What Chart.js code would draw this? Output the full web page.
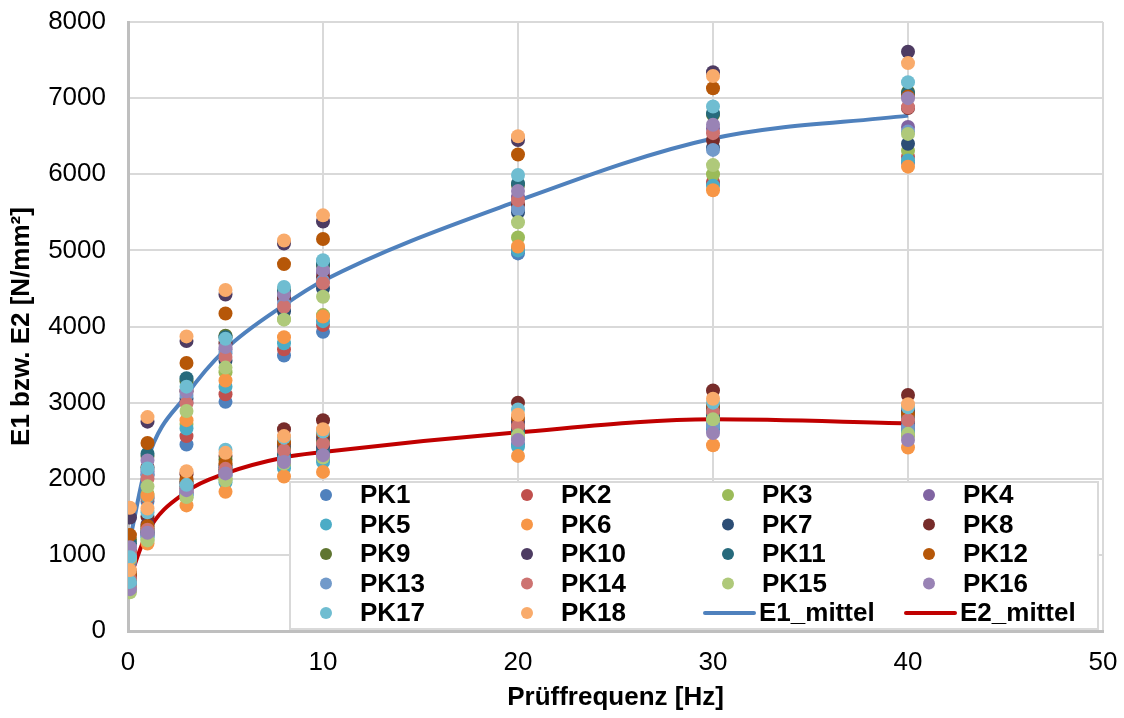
<!DOCTYPE html>
<html>
<head>
<meta charset="utf-8">
<script src="https://cdn.jsdelivr.net/npm/chart.js@4.4.0/dist/chart.umd.min.js"></script>
<style>
html, body { margin: 0; padding: 0; background: #fff; }
</style>
</head>
<body>
<canvas id="myChart" width="1124" height="718"></canvas>
<script>
// Prüffrequenzen [Hz]
const freqs = [0.1, 1, 3, 5, 8, 10, 20, 30, 40];
const seriesNames = ['PK1', 'PK2', 'PK3', 'PK4', 'PK5', 'PK6', 'PK7', 'PK8', 'PK9',
    'PK10', 'PK11', 'PK12', 'PK13', 'PK14', 'PK15', 'PK16', 'PK17', 'PK18'];
// E1 je Probekörper, eine Zeile pro PK (Werte je Frequenz)
const e1Values = [
    [900, 1700, 2450, 3010, 3620, 3930, 4960, 5880, 6150],
    [920, 1740, 2560, 3110, 3700, 4020, 5020, 5900, 6230],
    [940, 1800, 2720, 3400, 4100, 4150, 5170, 6000, 6310],
    [1000, 2100, 3000, 3700, 4350, 4700, 5700, 6600, 6620],
    [930, 1760, 2660, 3210, 3780, 4070, 5000, 5850, 6180],
    [950, 1780, 2770, 3290, 3860, 4130, 5050, 5790, 6100],
    [1010, 2050, 3050, 3550, 4200, 4500, 5500, 6350, 6400],
    [1050, 2150, 3150, 3780, 4380, 4650, 5600, 6450, 6870],
    [1200, 2300, 3280, 3880, 4480, 4800, 5860, 6780, 7080],
    [1490, 2750, 3810, 4420, 5090, 5380, 6450, 7340, 7610],
    [1150, 2330, 3320, 3860, 4450, 4820, 5880, 6800, 7060],
    [1260, 2470, 3520, 4170, 4820, 5150, 6260, 7130, 7020],
    [1020, 2060, 3100, 3650, 4300, 4600, 5540, 6320, 6560],
    [1040, 2000, 2990, 3600, 4260, 4570, 5660, 6540, 6880],
    [960, 1900, 2890, 3460, 4090, 4390, 5370, 6120, 6530],
    [1100, 2240, 3150, 3730, 4420, 4740, 5780, 6650, 7000],
    [970, 2135, 3210, 3840, 4520, 4870, 5990, 6890, 7210],
    [1620, 2810, 3870, 4480, 5130, 5460, 6500, 7290, 7460]
];
// E2 je Probekörper
const e2Values = [
    [600, 1250, 1800, 2050, 2200, 2250, 2450, 2650, 2600],
    [620, 1270, 1820, 2100, 2250, 2380, 2600, 2850, 2650],
    [560, 1200, 1750, 2000, 2180, 2330, 2580, 2750, 2560],
    [610, 1280, 1830, 2080, 2280, 2400, 2550, 2700, 2700],
    [640, 1230, 1780, 1950, 2135, 2220, 2420, 2680, 2620],
    [580, 1150, 1650, 1830, 2030, 2090, 2300, 2440, 2410],
    [650, 1300, 1870, 2150, 2300, 2420, 2650, 2800, 2750],
    [780, 1500, 2060, 2300, 2650, 2770, 3000, 3160, 3100],
    [700, 1350, 1960, 2250, 2400, 2500, 2700, 2900, 2860],
    [720, 1400, 1940, 2180, 2450, 2550, 2750, 2950, 2900],
    [660, 1320, 1900, 2120, 2320, 2350, 2620, 2820, 2800],
    [740, 1380, 1990, 2200, 2480, 2600, 2800, 2970, 2850],
    [620, 1260, 1800, 2040, 2260, 2300, 2530, 2700, 2680],
    [680, 1330, 1880, 2130, 2370, 2460, 2690, 2880, 2770],
    [510, 1190, 1760, 1980, 2200, 2280, 2570, 2780, 2590],
    [550, 1290, 1850, 2070, 2220, 2310, 2510, 2600, 2510],
    [645, 1560, 1920, 2380, 2540, 2620, 2910, 3000, 2940],
    [800, 1610, 2100, 2340, 2560, 2650, 2840, 3050, 2980]
];
const e1Mittel = [1200, 2250, 3100, 3700, 4280, 4600, 5650, 6470, 6770];
const e2Mittel = [700, 1300, 1830, 2070, 2280, 2350, 2610, 2780, 2730];

const pkColors = ['#4F81BD', '#C0504D', '#9BBB59', '#8064A2', '#4BACC6', '#F79646',
    '#2C4D75', '#772C2A', '#5F7530', '#4D3B62', '#276A7C', '#B65708',
    '#729ACA', '#CD7371', '#AFC97A', '#9983B5', '#6FBDD1', '#F9AB6B'];
const e1Color = '#4F81BD';
const e2Color = '#C00000';
const fontFamily = "'Liberation Sans', Arial, sans-serif";
const fontSize = 26;

var datasets = [];
for (let i = 0; i < seriesNames.length; i++) {
    let pts = [];
    for (let j = 0; j < freqs.length; j++) {
        pts.push({x: freqs[j], y: e1Values[i][j]});
        pts.push({x: freqs[j], y: e2Values[i][j]});
    }
    datasets.push({
        label: seriesNames[i],
        data: pts,
        backgroundColor: pkColors[i],
        borderColor: pkColors[i],
        pointRadius: 7,
        pointBorderWidth: 0,
        pointHoverRadius: 7,
        showLine: false,
        order: 50 - i   // spätere PK oben
    });
}
datasets.push({
    label: 'E1_mittel',
    data: freqs.map((f, j) => ({x: f, y: e1Mittel[j]})),
    borderColor: e1Color,
    backgroundColor: e1Color,
    borderWidth: 4,
    pointRadius: 0,
    showLine: true,
    cubicInterpolationMode: 'monotone',
    order: 100
});
datasets.push({
    label: 'E2_mittel',
    data: freqs.map((f, j) => ({x: f, y: e2Mittel[j]})),
    borderColor: e2Color,
    backgroundColor: e2Color,
    borderWidth: 4,
    pointRadius: 0,
    showLine: true,
    cubicInterpolationMode: 'monotone',
    order: 100
});

// Legende im Diagramm, 4 Spalten mit Rahmen
const boxLegend = {
    id: 'boxLegend',
    afterDatasetsDraw(chart) {
        const ctx = chart.ctx;
        const left = 290, top = 482, width = 808, height = 147;
        const colW = 201, rowH = 29.5;
        ctx.save();
        ctx.fillStyle = '#ffffff';
        ctx.fillRect(left, top, width, height);
        ctx.strokeStyle = '#D9D9D9';
        ctx.lineWidth = 2;
        ctx.strokeRect(left, top, width, height);
        ctx.font = 'bold ' + fontSize + 'px ' + fontFamily;
        ctx.textBaseline = 'middle';
        ctx.textAlign = 'left';
        let items = chart.data.datasets;
        for (let k = 0; k < items.length; k++) {
            let col = k % 4;
            let row = Math.floor(k / 4);
            let mx = left + 36 + col * colW;
            let my = top + 13 + row * rowH;
            let ds = items[k];
            if (ds.showLine) {
                ctx.strokeStyle = ds.borderColor;
                ctx.lineWidth = 4;
                ctx.lineCap = 'round';
                ctx.beginPath();
                ctx.moveTo(mx - 23, my);
                ctx.lineTo(mx + 26, my);
                ctx.stroke();
                ctx.fillStyle = '#000';
                ctx.fillText(ds.label, mx + 31, my + 1);
            } else {
                ctx.fillStyle = ds.backgroundColor;
                ctx.beginPath();
                ctx.arc(mx, my, 6, 0, Math.PI * 2);
                ctx.fill();
                ctx.fillStyle = '#000';
                ctx.fillText(ds.label, mx + 34, my + 1);
            }
        }
        ctx.restore();
    }
};

var ctx = document.getElementById('myChart').getContext('2d');
var myChart = new Chart(ctx, {
    type: 'scatter',
    data: { datasets: datasets },
    plugins: [boxLegend],
    options: {
        responsive: false,
        animation: false,
        layout: { padding: { top: 22, right: 21, left: 0, bottom: 0 } },
        plugins: {
            legend: { display: false },
            tooltip: { enabled: false }
        },
        scales: {
            x: {
                type: 'linear',
                min: 0,
                max: 50,
                ticks: {
                    stepSize: 10,
                    padding: 16,
                    color: '#000',
                    font: { family: fontFamily, size: fontSize }
                },
                grid: { color: '#D9D9D9', lineWidth: 2, drawTicks: false },
                border: { color: '#BFBFBF', width: 3 },
                title: {
                    display: true,
                    text: 'Prüffrequenz [Hz]',
                    color: '#000',
                    font: { family: fontFamily, size: fontSize, weight: 'bold' },
                    padding: { top: 0, bottom: 5 }
                },
                afterFit: function(scale) {
                    scale.height = 87;
                    scale.paddingLeft = 0;
                    scale.paddingRight = 0;
                }
            },
            y: {
                min: 0,
                max: 8000,
                ticks: {
                    stepSize: 1000,
                    padding: 22,
                    color: '#000',
                    font: { family: fontFamily, size: fontSize },
                    callback: function(value) { return String(value); }
                },
                grid: { color: '#D9D9D9', lineWidth: 2, drawTicks: false },
                border: { color: '#BFBFBF', width: 3 },
                title: {
                    display: true,
                    text: 'E1 bzw. E2 [N/mm²]',
                    color: '#000',
                    font: { family: fontFamily, size: fontSize, weight: 'bold' },
                    padding: { top: 6, bottom: 0 }
                },
                afterFit: function(scale) {
                    scale.width = 128;
                    scale.paddingTop = 0;
                    scale.paddingBottom = 0;
                }
            }
        }
    }
});
</script>
</body>
</html>
